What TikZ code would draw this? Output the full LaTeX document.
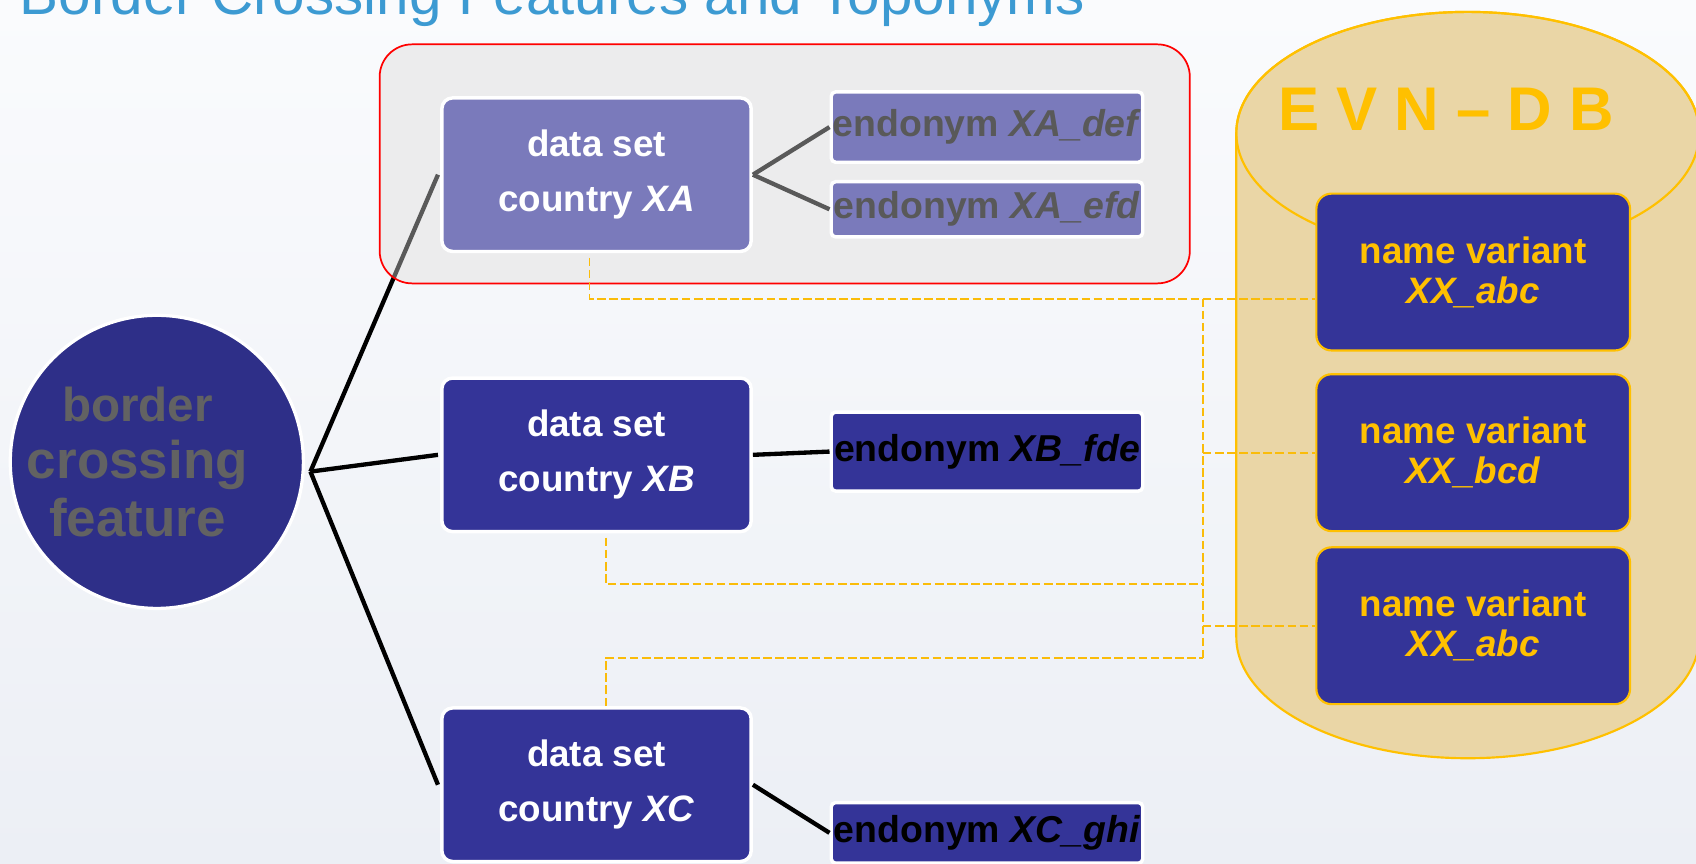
\documentclass[tikz,border=0pt]{standalone}
\usepackage{fontspec}
\setmainfont{Liberation Sans}
\usepackage{tikz}
\definecolor{boxblue}{RGB}{52,52,152}
\definecolor{ballblue}{RGB}{46,47,136}
\definecolor{gold}{RGB}{255,192,0}
\definecolor{dashgold}{RGB}{250,188,10}
\definecolor{papyrus}{RGB}{234,214,166}
\definecolor{titleblue}{RGB}{60,154,210}
\definecolor{featgray}{RGB}{98,98,98}
\definecolor{groupgray}{RGB}{226,226,228}
\definecolor{bgtop}{RGB}{250,251,253}
\definecolor{bgbot}{RGB}{236,239,245}
\tikzstyle{dsbox} = [rectangle, rounded corners=5pt, draw=white, line width=1.6pt, fill=boxblue, text=white, minimum width=143pt, minimum height=71pt, align=center, font=\fontsize{17}{25.5}\selectfont\bfseries]
\tikzstyle{endobox} = [rectangle, rounded corners=2pt, draw=white, line width=1.6pt, fill=boxblue, text=black, minimum width=144pt, inner sep=0pt, font=\fontsize{17.3}{20}\selectfont\bfseries]
\tikzstyle{nvbox} = [rectangle, rounded corners=7pt, draw=gold, line width=1pt, fill=boxblue, text=gold, minimum width=145pt, minimum height=72.5pt, align=center, font=\fontsize{17}{18.5}\selectfont\bfseries]
\tikzstyle{ball} = [circle, draw=white, line width=1.5pt, fill=ballblue, minimum size=135.5pt, inner sep=0pt]
\tikzstyle{link} = [draw=black, line width=2pt]
\tikzstyle{dbline} = [draw=dashgold, line width=0.9pt, dash pattern=on 4pt off 1.6pt]

\begin{document}
\begin{tikzpicture}
  \useasboundingbox (0pt,0pt) rectangle (784pt,-399pt);
  \clip (0pt,0pt) rectangle (784pt,-399pt);
  \shade[top color=bgtop, bottom color=bgbot] (0pt,0pt) rectangle (784pt,-399pt);
  \draw (9pt,-6.5pt)node[anchor=base west, inner sep=0pt, text=titleblue, font=\fontsize{27}{30}\selectfont](title){Border Crossing Features and Toponyms};
  \filldraw[fill=papyrus, draw=gold, line width=1pt] (571.5pt,-61.5pt) -- (571.5pt,-294.5pt) arc[start angle=180, end angle=360, x radius=107pt, y radius=56pt] -- (785.5pt,-61.5pt) arc[start angle=0, end angle=180, x radius=107pt, y radius=56pt] -- cycle;
  \draw[gold, line width=1pt] (678.5pt,-61.5pt) ellipse [x radius=107pt, y radius=56pt];
  \draw (668.5pt,-50.5pt)node[text=gold, font=\fontsize{28.5}{30}\selectfont\bfseries](evn){E V N -- D B};
  \fill[groupgray, rounded corners=15pt] (175.5pt,-20.5pt) rectangle (550pt,-131pt);
  \draw (72.5pt,-213.5pt)node[ball](0){};
  \draw (63.5pt,-213.5pt)node[text=featgray, align=center, font=\fontsize{24.5}{26.5}\selectfont\bfseries](0t){{\fontsize{22}{26.5}\selectfont border}\\crossing\\feature};
  \coordinate (hub) at (143.5pt,-218pt);
  \draw (275.75pt,-80.75pt)node[dsbox](1){data set\\country \textit{XA}};
  \draw (275.75pt,-210.25pt)node[dsbox](2){data set\\country \textit{XB}};
  \draw (275.75pt,-362.75pt)node[dsbox](3){data set\\country \textit{XC}};
  \draw (456.25pt,-58.75pt)node[endobox, minimum height=32.5pt](4){endonym \textit{XA\_def}};
  \draw (456.25pt,-96.75pt)node[endobox, minimum height=25.5pt](5){endonym \textit{XA\_efd}};
  \draw (456.25pt,-208.75pt)node[endobox, minimum height=36.5pt](6){endonym \textit{XB\_fde}};
  \draw (456.25pt,-385pt)node[endobox, minimum height=28pt](7){endonym \textit{XC\_ghi}};
  \draw (681pt,-125.75pt)node[nvbox](8){name variant\\\textit{XX\_abc}};
  \draw (681pt,-209.25pt)node[nvbox](9){name variant\\\textit{XX\_bcd}};
  \draw (681pt,-289.25pt)node[nvbox](10){name variant\\\textit{XX\_abc}};
  \path (hub) edge[link] ([xshift=-1pt]1.west);
  \path (hub) edge[link] ([xshift=-1pt]2.west);
  \path (hub) edge[link] ([xshift=-1pt]3.west);
  \path (1.east) edge[link] (4.west);
  \path (1.east) edge[link] (5.west);
  \path (2.east) edge[link] (6.west);
  \path (3.east) edge[link] (7.west);
  \draw[red, line width=0.8pt, fill=white, fill opacity=0.35, rounded corners=15pt] (175.5pt,-20.5pt) rectangle (550pt,-131pt);
  \coordinate (t1) at (556pt,-138pt);
  \coordinate (t2) at (556pt,-304pt);
  \coordinate (t3) at (556pt,-270pt);
  \draw[dbline] ([xshift=-3.25pt,yshift=-2pt]1.south) |- ([yshift=-12.25pt]8.west);
  \draw[dbline] (t1) -- (t2);
  \draw[dbline] (t1 |- 9.west) -- (9.west);
  \draw[dbline] (t1 |- 10.west) -- (10.west);
  \draw[dbline] ([xshift=4.25pt,yshift=-2pt]2.south) |- (t3);
  \draw[dbline] ([xshift=4.25pt]3.north) |- (t2);
\end{tikzpicture}
\end{document}
